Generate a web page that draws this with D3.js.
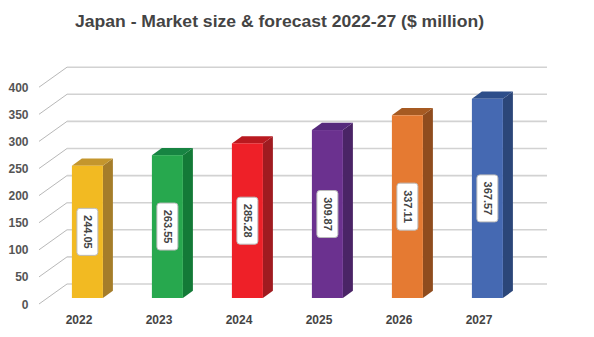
<!DOCTYPE html>
<html><head><meta charset="utf-8">
<script src="https://cdn.jsdelivr.net/npm/d3@7"></script>
<style>body{margin:0;background:#fff}svg{display:block}</style>
</head><body><svg id="c" width="594" height="337"></svg>
<script>
const categories = ["2022","2023","2024","2025","2026","2027"];
const values = [244.05, 263.55, 285.28, 309.87, 337.11, 367.57];
const tickValues = [0,50,100,150,200,250,300,350,400];
const frontColors = ["#F2BA22","#27A84E","#EE2028","#6B318F","#E57A32","#4569B2"];
const sideColors  = ["#A57D2A","#137A37","#A01B20","#4A2466","#8F4C1E","#2B4679"];
const topColors   = ["#C4962D","#178442","#B9191F","#562A7C","#A65A22","#2D4E8A"];
const title = "Japan - Market size & forecast 2022-27 ($ million)";

const svg = d3.select("#c");
const fontFam = "'Liberation Sans', Arial, Helvetica, sans-serif";
const DX = 28, DY = -20;          // depth of floor
const frontLeft = 39, frontRight = 519;
const y = d3.scaleLinear().domain([0,400]).range([304, 87.2]);
const x = d3.scaleBand().domain(categories).range([frontLeft, frontRight]);
const barF = 0.3;                  // bar front depth fraction
const bdx = 10, bdy = -7.2;        // bar depth
const barW = 31;

// title
svg.append("text").attr("x", 279.5).attr("y", 27).attr("text-anchor","middle")
  .attr("font-family", fontFam).attr("font-weight","bold").attr("font-size",17)
  .attr("fill","#444").attr("textLength",409).attr("lengthAdjust","spacingAndGlyphs")
  .text(title);

// grid
const g = svg.append("g");
tickValues.forEach(t => {
  const yy = y(t);
  g.append("line").attr("x1", frontLeft + DX).attr("x2", frontRight + DX)
    .attr("y1", yy + DY).attr("y2", yy + DY).attr("stroke","#d2d2d2").attr("stroke-width",1.6);
  g.append("line").attr("x1", frontLeft).attr("y1", yy)
    .attr("x2", frontLeft + DX).attr("y2", yy + DY).attr("stroke","#b8b8b8").attr("stroke-width",1);
  g.append("text").attr("x", 28.5).attr("y", yy + 4.5).attr("text-anchor","end")
    .attr("font-family", fontFam).attr("font-weight","bold").attr("font-size",12)
    .attr("fill","#555").text(t);
});

// bars
const ox = DX * barF, oy = DY * barF;
categories.forEach((c, i) => {
  const cx = x(c) + x.bandwidth()/2 + ox;
  const x0 = cx - barW/2, x1 = cx + barW/2;
  const yb = y(0) + oy, yt = y(values[i]) + oy;
  const bg = svg.append("g");
  // side
  bg.append("path").attr("d",
    `M${x1},${yb}L${x1+bdx},${yb+bdy}L${x1+bdx},${yt+bdy}L${x1},${yt}Z`)
    .attr("fill", sideColors[i]);
  // top
  bg.append("path").attr("d",
    `M${x0},${yt}L${x0+bdx},${yt+bdy}L${x1+bdx},${yt+bdy}L${x1},${yt}Z`)
    .attr("fill", topColors[i]);
  // front
  bg.append("rect").attr("x", x0).attr("y", yt).attr("width", barW).attr("height", yb - yt)
    .attr("fill", frontColors[i]);
  // value label
  const my = (yt + yb) / 2;
  bg.append("rect").attr("x", cx - 10.5).attr("y", my - 23.5).attr("width", 21).attr("height", 47)
    .attr("rx", 3).attr("fill","#fff").attr("stroke","#bbb").attr("stroke-width",1);
  bg.append("text").attr("transform", `translate(${cx},${my}) rotate(90)`)
    .attr("text-anchor","middle").attr("dy","0.35em")
    .attr("font-family", fontFam).attr("font-weight","bold").attr("font-size",11)
    .attr("fill","#444").text(values[i].toFixed(2));
  // category label (front plane)
  svg.append("text").attr("x", x(c) + x.bandwidth()/2).attr("y", 324).attr("text-anchor","middle")
    .attr("font-family", fontFam).attr("font-weight","bold").attr("font-size",12)
    .attr("fill","#444").text(c);
});
</script></body></html>
